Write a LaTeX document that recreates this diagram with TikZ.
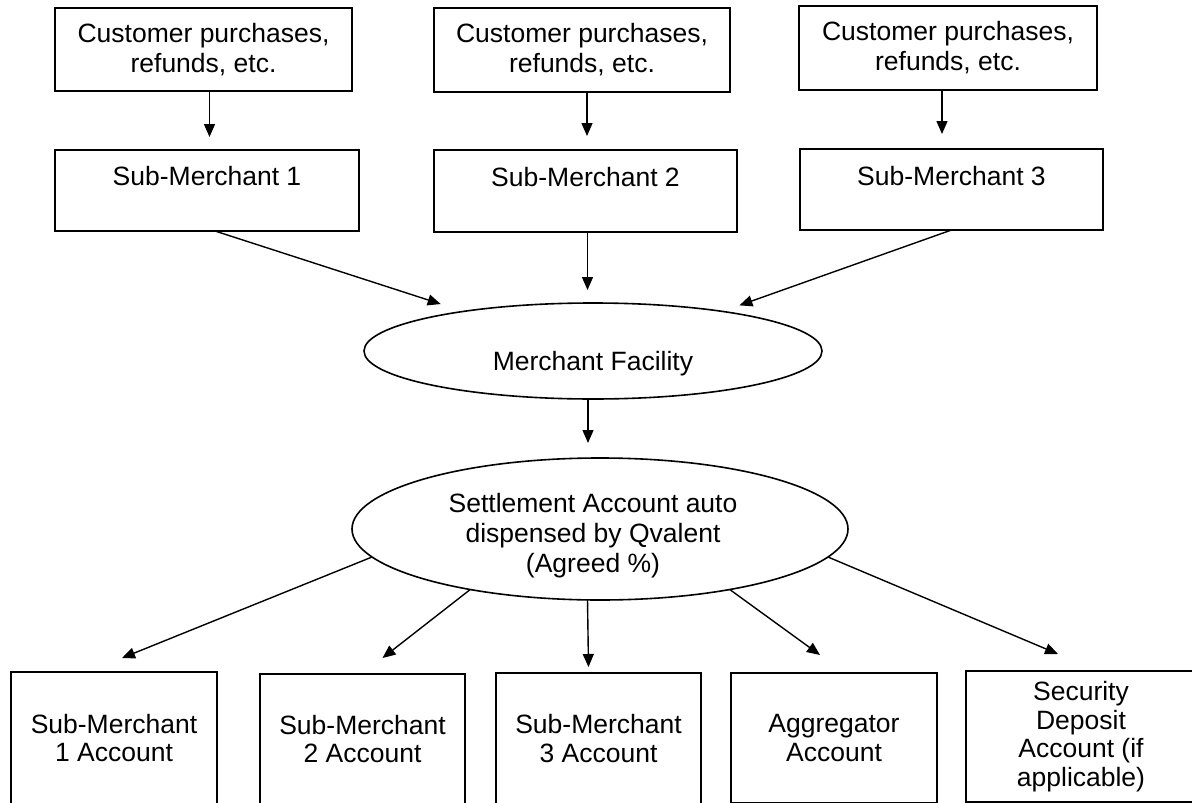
\documentclass[tikz,border=0pt]{standalone}
\usepackage{fontspec}
\setmainfont{Liberation Sans}
\usetikzlibrary{shapes.geometric,arrows.meta}
\newcommand\diagfont{\fontsize{26.5}{30}\selectfont}
\newcommand\diagfontb{\fontsize{26.5}{28.5}\selectfont}
\begin{document}
\begin{tikzpicture}[x=1pt,y=-1pt,
  box/.style={draw, line width=1.6pt, rectangle, inner sep=0pt, outer sep=0pt, align=center, font=\diagfont},
  bbox/.style={box, font=\diagfontb},
  ell/.style={draw, line width=1.6pt, ellipse, inner sep=0pt, outer sep=0pt},
  txt/.style={inner sep=0pt, align=center, font=\diagfont},
  arr/.style={line width=1.4pt, -{Triangle[length=13pt,width=11pt]}},
]
\fill[white] (0,0) rectangle (1192,803);
\useasboundingbox (0,0) rectangle (1192,803);

% top boxes
\node[box, minimum width=297pt, minimum height=83pt] (t1) at (203.5,49.5) {Customer purchases,\\refunds, etc.};
\node[box, minimum width=296pt, minimum height=84pt] (t2) at (582,50) {Customer purchases,\\refunds, etc.};
\node[box, minimum width=298pt, minimum height=84pt] (t3) at (948,48) {Customer purchases,\\refunds, etc.};

% sub-merchant boxes
\node[box, minimum width=304pt, minimum height=81pt] (sm1) at (207,190.5) {};
\node[txt] (sm1t) at (207,176) {Sub-Merchant 1};
\node[box, minimum width=303pt, minimum height=82pt] (sm2) at (585.5,191) {};
\node[txt] (sm2t) at (585.5,177) {Sub-Merchant 2};
\node[box, minimum width=303pt, minimum height=81pt] (sm3) at (951.5,189.5) {};
\node[txt] (sm3t) at (951.5,176) {Sub-Merchant 3};

% ellipses
\node[ell, minimum width=458pt, minimum height=96pt] (e1) at (593,351) {};
\node[txt] (e1t) at (593,364) {Merchant Facility};
\node[ell, minimum width=496pt, minimum height=142pt] (e2) at (600,529) {};
\node[txt] (e2t) at (593,536) {Settlement Account auto\\dispensed by Qvalent\\(Agreed \%)};

% bottom boxes
\node[bbox, minimum width=206pt, minimum height=132pt] (b1) at (114,738) {Sub-Merchant\\1 Account};
\node[bbox, minimum width=205pt, minimum height=130pt] (b2) at (362.5,739) {Sub-Merchant\\2 Account};
\node[bbox, minimum width=205pt, minimum height=131pt] (b3) at (598.5,738.5) {Sub-Merchant\\3 Account};
\node[bbox, minimum width=206pt, minimum height=130pt] (b4) at (834,738) {Aggregator\\Account};
\node[bbox, minimum width=230pt, minimum height=131pt] (b5) at (1081,736.5) {Security\\Deposit\\Account (if\\applicable)};

% connectors
\draw[arr, shorten >=13pt] ([xshift=6pt]t1.south) -- ([xshift=6pt]t1.south |- sm1.north);
\draw[arr, shorten >=14pt] ([xshift=5pt]t2.south) -- ([xshift=5pt]t2.south |- sm2.north);
\draw[arr, shorten >=15pt] ([xshift=-6pt]t3.south) -- ([xshift=-6pt]t3.south |- sm3.north);

\draw[arr, shorten >=24pt] ([xshift=8pt]sm1.south) -- (e1.163);
\draw[arr, shorten >=13pt] ([xshift=2pt]sm2.south) -- ([xshift=2pt]sm2.south |- e1.north);
\draw[arr, shorten >=18pt] (sm3.south) -- (e1.17);

\draw[arr, shorten >=15pt] ([xshift=-5pt]e1.south) -- ([xshift=-5pt]e1.south |- e2.north);

\draw[arr] (e2.187) -- ([xshift=8pt,yshift=14pt]b1.north);
\draw[arr] (e2.205.9) -- ([xshift=20pt,yshift=16pt]b2.north);
\draw[arr] (e2.260.4) -- ([xshift=-10pt,yshift=6pt]b3.north);
\draw[arr] (e2.335.4) -- ([xshift=-14pt,yshift=18pt]b4.north);
\draw[arr] (e2.353.55) -- ([xshift=-23pt,yshift=17pt]b5.north);
\end{tikzpicture}
\end{document}
